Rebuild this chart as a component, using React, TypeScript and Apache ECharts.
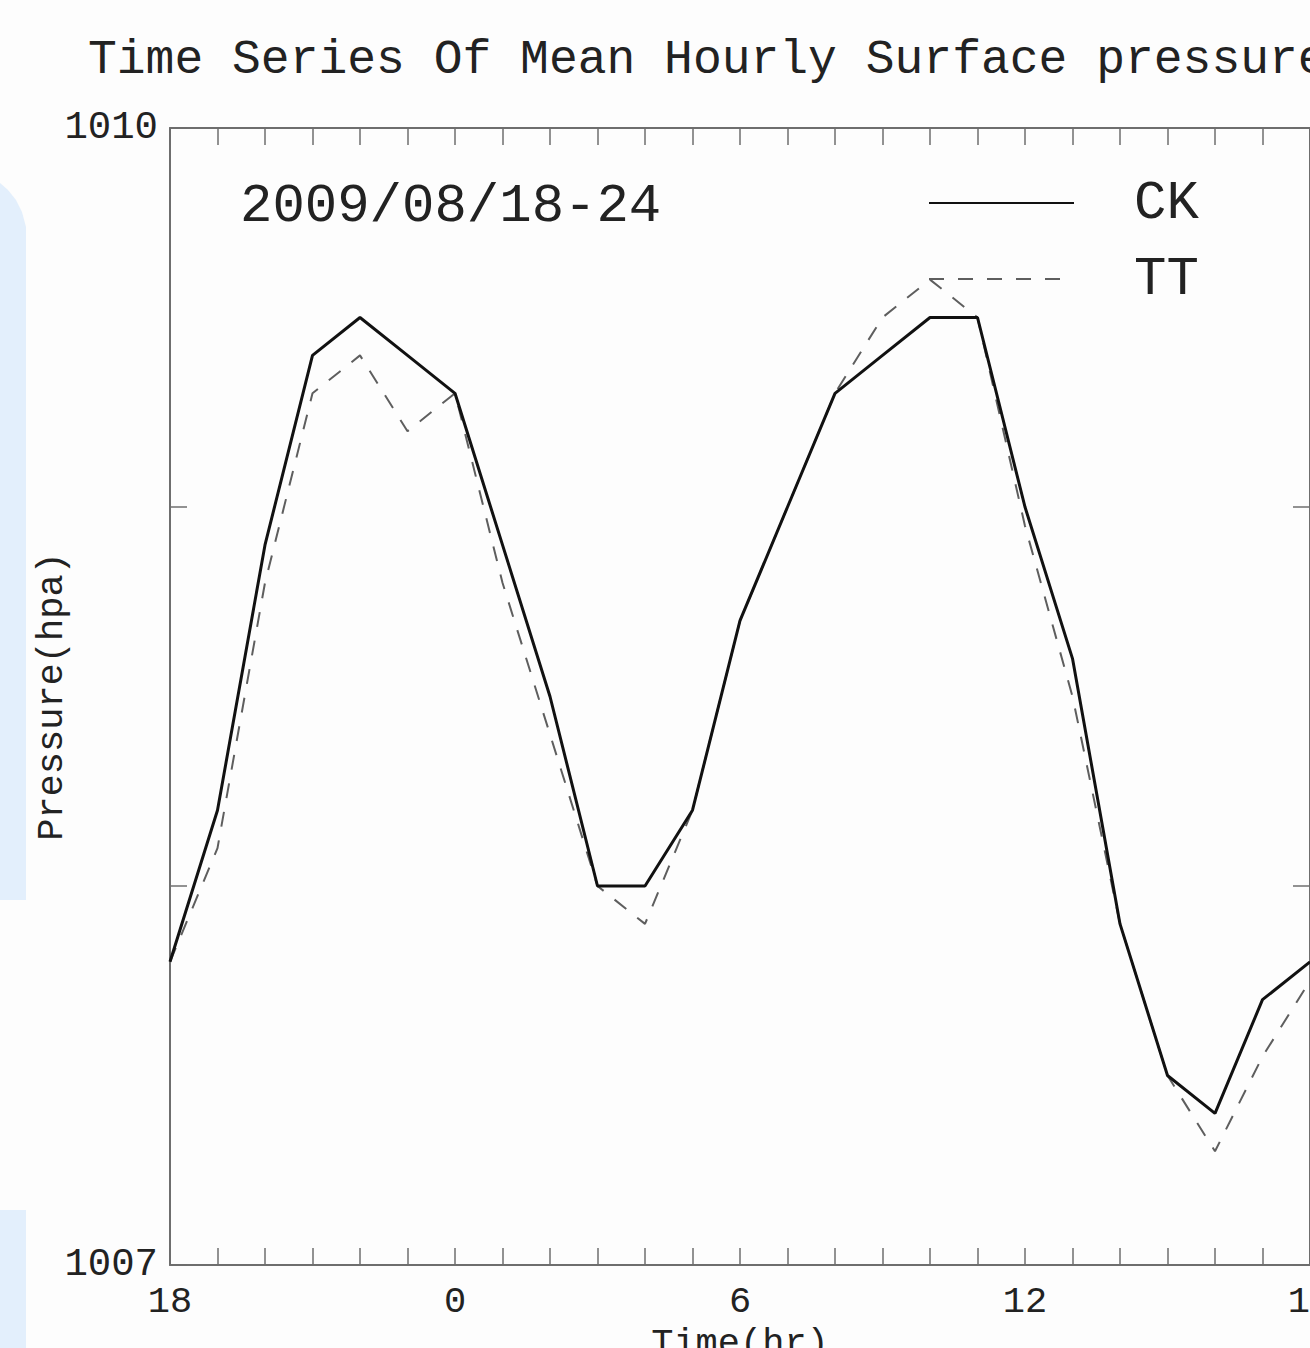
import React, { useEffect, useRef } from "react";
import * as echarts from "echarts";

// Hours after 18 UTC (18, 19, ... 23, 0, ... 18)
const hourOffsets = [0, 1, 2, 3, 4, 5, 6, 7, 8, 9, 10, 11, 12, 13, 14, 15, 16, 17, 18, 19, 20, 21, 22, 23, 24];
const ckValues = [1007.8, 1008.2, 1008.9, 1009.4, 1009.5, 1009.4, 1009.3, 1008.9, 1008.5, 1008.0, 1008.0, 1008.2, 1008.7, 1009.0, 1009.3, 1009.4, 1009.5, 1009.5, 1009.0, 1008.6, 1007.9, 1007.5, 1007.4, 1007.7, 1007.8];
const ttValues = [1007.8, 1008.1, 1008.8, 1009.3, 1009.4, 1009.2, 1009.3, 1008.8, 1008.4, 1008.0, 1007.9, 1008.2, 1008.7, 1009.0, 1009.3, 1009.5, 1009.6, 1009.5, 1008.95, 1008.5, 1007.9, 1007.5, 1007.3, 1007.55, 1007.75];
const startHour = 18;
const labelEvery = 6;
const seriesNames = ["CK", "TT"];
const titleText = "Time Series Of Mean Hourly Surface pressure";
const periodText = "2009/08/18-24";

const FONT = "'Liberation Mono', 'DejaVu Sans Mono', monospace";
const AXIS_COLOR = "#6e6e6e";
const TEXT_COLOR = "#222222";

const mkLine = () => ({ show: true, onZero: false, lineStyle: { color: AXIS_COLOR, width: 2 } });
const mkTick = () => ({ show: true, inside: true, length: 17, lineStyle: { color: AXIS_COLOR, width: 1.5 } });

export default function App() {
  const ref = useRef<HTMLDivElement>(null);

  useEffect(() => {
    if (!ref.current) return;
    const chart = echarts.init(ref.current, null, { renderer: "svg" });

    const xLabel = (v: number) =>
      v % labelEvery === 0 ? String((startHour + v) % 24) : "";

    chart.setOption({
      animation: false,
      backgroundColor: "#fdfdfd",
      title: {
        text: titleText,
        left: 88,
        top: 36,
        padding: 0,
        textStyle: { fontFamily: FONT, fontSize: 48, fontWeight: "normal", color: TEXT_COLOR },
      },
      legend: {
        orient: "vertical",
        left: 928,
        top: 175,
        padding: 0,
        itemWidth: 145,
        itemHeight: 20,
        itemGap: 20,
        data: seriesNames,
        itemStyle: { color: "rgba(0,0,0,0)", borderColor: "rgba(0,0,0,0)", borderWidth: 0, opacity: 0 },
        textStyle: {
          fontFamily: FONT,
          fontSize: 54,
          color: TEXT_COLOR,
          lineHeight: 56,
          padding: [0, 0, 0, 55],
        },
      },
      grid: {
        left: 170,
        top: 128,
        right: 90,
        bottom: 135,
        containLabel: false,
        outerBoundsMode: "none",
      },
      xAxis: [
        {
          type: "value",
          min: 0,
          max: 24,
          interval: 1,
          position: "bottom",
          axisLine: mkLine(),
          axisTick: mkTick(),
          splitLine: { show: false },
          axisLabel: {
            formatter: xLabel,
            margin: 18,
            fontFamily: FONT,
            fontSize: 37,
            color: TEXT_COLOR,
            showMinLabel: true,
            showMaxLabel: true,
          },
          name: "Time(hr)",
          nameLocation: "middle",
          nameGap: 60,
          nameMoveOverlap: false,
          nameTextStyle: { fontFamily: FONT, fontSize: 37, color: TEXT_COLOR },
        },
        {
          type: "value",
          min: 0,
          max: 24,
          interval: 1,
          position: "top",
          axisLine: mkLine(),
          axisTick: mkTick(),
          splitLine: { show: false },
          axisLabel: { show: false },
        },
      ],
      yAxis: [
        {
          type: "value",
          min: 1007,
          max: 1010,
          interval: 1,
          position: "left",
          axisLine: mkLine(),
          axisTick: mkTick(),
          splitLine: { show: false },
          axisLabel: {
            formatter: (v: number) => (v === 1007 || v === 1010 ? String(v) : ""),
            margin: 12,
            fontFamily: FONT,
            fontSize: 39,
            color: TEXT_COLOR,
            showMinLabel: true,
            showMaxLabel: true,
          },
          name: "Pressure(hpa)",
          nameLocation: "middle",
          nameGap: 100,
          nameRotate: 90,
          nameMoveOverlap: false,
          nameTextStyle: { fontFamily: FONT, fontSize: 37, color: TEXT_COLOR },
        },
        {
          type: "value",
          min: 1007,
          max: 1010,
          interval: 1,
          position: "right",
          axisLine: mkLine(),
          axisTick: mkTick(),
          splitLine: { show: false },
          axisLabel: { show: false },
        },
      ],
      graphic: [
        {
          type: "polygon",
          silent: true,
          z: -10,
          shape: {
            points: [
              [0, 183],
              [8, 190],
              [16, 200],
              [22, 212],
              [26, 227],
              [26, 900],
              [0, 900],
            ],
          },
          style: { fill: "#e3effc" },
        },
        {
          type: "rect",
          silent: true,
          z: -10,
          shape: { x: 0, y: 1210, width: 26, height: 200 },
          style: { fill: "#e3effc" },
        },
        {
          type: "text",
          left: 240,
          top: 179,
          style: {
            text: periodText,
            fontFamily: FONT,
            fontSize: 54,
            fill: TEXT_COLOR,
          },
        },
      ],
      series: [
        {
          name: seriesNames[0],
          type: "line",
          data: hourOffsets.map((h, i) => [h, ckValues[i]]),
          symbol: "none",
          lineStyle: { color: "#111111", width: 3, type: "solid" },
          itemStyle: { color: "#111111" },
          z: 3,
        },
        {
          name: seriesNames[1],
          type: "line",
          data: hourOffsets.map((h, i) => [h, ttValues[i]]),
          symbol: "none",
          lineStyle: { color: "#5e5e5e", width: 2, type: [15, 14] },
          itemStyle: { color: "#5e5e5e" },
          z: 2,
        },
      ],
    });

    return () => chart.dispose();
  }, []);

  return (
    <div
      style={{
        position: "fixed",
        left: 0,
        top: 0,
        width: 1310,
        height: 1348,
        overflow: "hidden",
        background: "#fdfdfd",
      }}
    >
      <div ref={ref} style={{ width: 1400, height: 1400 }} />
    </div>
  );
}
